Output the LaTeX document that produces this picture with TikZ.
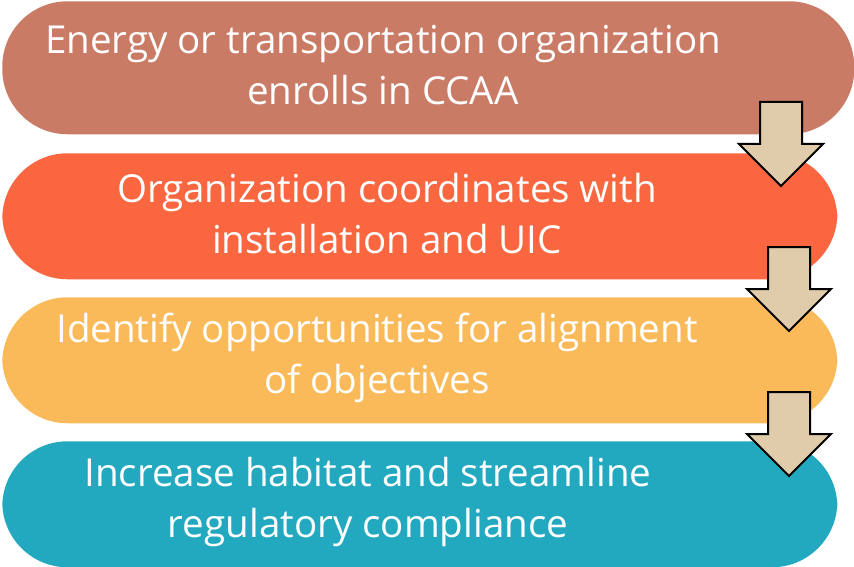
\documentclass[tikz,border=0pt]{standalone}
\usepackage{fontspec}
\setmainfont{Open Sans}
\definecolor{pillA}{RGB}{201,123,102}
\definecolor{pillB}{RGB}{249,102,63}
\definecolor{pillC}{RGB}{251,186,90}
\definecolor{pillD}{RGB}{34,169,192}
\definecolor{arrowfill}{RGB}{224,203,170}
\begin{document}
\begin{tikzpicture}[x=0.75pt,y=-0.75pt,
  pill/.style={fill=#1, draw=none, rectangle, rounded corners=49pt, inner sep=0pt, anchor=north west},
  steptext/.style={text=white, align=center, font=\fontsize{28.9}{38.25}\selectfont, inner sep=0pt},
  arrowshape/.style={fill=arrowfill, draw=black, line width=1.5pt, line join=miter},
  blockarrow/.pic={\draw[arrowshape] (-21,0) -- (21,0) -- (21,42) -- (42,42) -- (0,84) -- (-42,42) -- (-21,42) -- cycle;}
]
\useasboundingbox (0,0) rectangle (854,567);
% pills
\node[pill=pillA, minimum width=639pt, minimum height=99.75pt] (p1) at (2,1) {};
\node[pill=pillB, minimum width=626.25pt, minimum height=94.5pt] (p2) at (2,153) {};
\node[pill=pillC, minimum width=626.25pt, minimum height=94.5pt] (p3) at (2,297) {};
\node[pill=pillD, minimum width=626.25pt, minimum height=94.5pt] (p4) at (2,441) {};
% texts
\node[steptext] (t1) at (383,65) {Energy or transportation organization\\enrolls in CCAA};
\node[steptext] (t2) at (387,214) {Organization coordinates with\\installation and UIC};
\node[steptext] (t3) at (377,358) {Identify opportunities for alignment\\of objectives};
\node[steptext] (t4) at (368,501.5) {Increase habitat and streamline\\regulatory compliance};
% arrows
\coordinate (a1) at (781,102);
\coordinate (a2) at (789,247);
\coordinate (a3) at (789,392);
\pic at (a1) {blockarrow};
\pic at (a2) {blockarrow};
\pic at (a3) {blockarrow};
\end{tikzpicture}
\end{document}
